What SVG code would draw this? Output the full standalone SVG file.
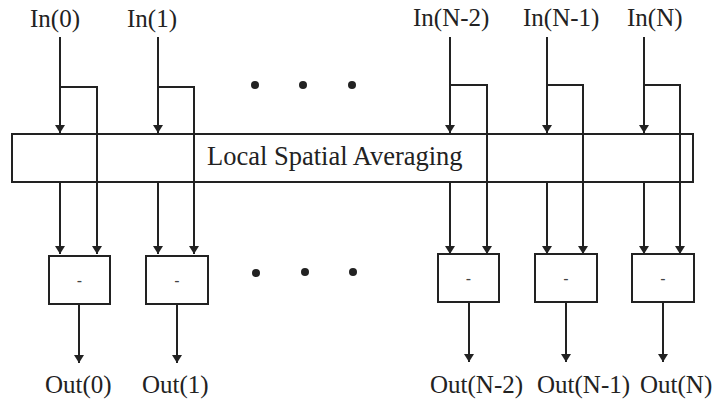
<svg xmlns="http://www.w3.org/2000/svg" width="713" height="405" viewBox="0 0 713 405">
<style>
.ln{stroke:#222;stroke-width:2;fill:none}
.bx{stroke:#222;stroke-width:2;fill:#fff}
.t{font-family:"Liberation Serif","Times New Roman",serif;fill:#222;font-size:25px}
.m{font-family:"Liberation Sans",Arial,sans-serif;fill:#444;font-size:16px;text-anchor:middle}
.dot{fill:#222}
</style>
<defs>
<marker id="ah" markerWidth="8" markerHeight="10" refX="8" refY="5" orient="auto" markerUnits="userSpaceOnUse">
<path d="M0,0 L8,5 L0,10 Z" fill="#222"/>
</marker>
</defs>
<rect width="713" height="405" fill="#fff"/>
<g id="bar">
<rect class="bx" x="12" y="134" width="681" height="48"/>
<text class="t" x="207" y="165" style="font-size:26.5px">Local Spatial Averaging</text>
</g>
<g id="connectors">
<path class="ln" d="M60,37 V133" marker-end="url(#ah)"/>
<path class="ln" d="M60,87 H97 V254" marker-end="url(#ah)"/>
<path class="ln" d="M60,182 V254" marker-end="url(#ah)"/>
<path class="ln" d="M79,304 V363" marker-end="url(#ah)"/>
<path class="ln" d="M158,37 V133" marker-end="url(#ah)"/>
<path class="ln" d="M158,87 H194 V254" marker-end="url(#ah)"/>
<path class="ln" d="M158,182 V254" marker-end="url(#ah)"/>
<path class="ln" d="M177,304 V363" marker-end="url(#ah)"/>
<path class="ln" d="M450,37 V133" marker-end="url(#ah)"/>
<path class="ln" d="M450,85 H487 V254" marker-end="url(#ah)"/>
<path class="ln" d="M450,182 V254" marker-end="url(#ah)"/>
<path class="ln" d="M469,302 V362" marker-end="url(#ah)"/>
<path class="ln" d="M547,37 V133" marker-end="url(#ah)"/>
<path class="ln" d="M547,85 H583 V254" marker-end="url(#ah)"/>
<path class="ln" d="M547,182 V254" marker-end="url(#ah)"/>
<path class="ln" d="M566,302 V362" marker-end="url(#ah)"/>
<path class="ln" d="M644,37 V133" marker-end="url(#ah)"/>
<path class="ln" d="M644,85 H680 V254" marker-end="url(#ah)"/>
<path class="ln" d="M644,182 V254" marker-end="url(#ah)"/>
<path class="ln" d="M663,302 V362" marker-end="url(#ah)"/>
</g>
<g id="in-labels">
<text class="t" x="30" y="27">In(0)</text>
<text class="t" x="127" y="27">In(1)</text>
<text class="t" x="413" y="26">In(N-2)</text>
<text class="t" x="523" y="26">In(N-1)</text>
<text class="t" x="627" y="26">In(N)</text>
</g>
<g id="dots-top">
<circle class="dot" cx="255" cy="85" r="4"/>
<circle class="dot" cx="303" cy="85" r="4"/>
<circle class="dot" cx="352" cy="85" r="4"/>
</g>
<g id="dots-bottom">
<circle class="dot" cx="256" cy="273" r="4"/>
<circle class="dot" cx="305" cy="272" r="4"/>
<circle class="dot" cx="353" cy="272" r="4"/>
</g>
<g id="sub0"><rect class="bx" x="49" y="256" width="61" height="48"/><text class="m" x="79.5" y="286">-</text></g>
<g id="sub1"><rect class="bx" x="146" y="256" width="62" height="48"/><text class="m" x="177" y="286">-</text></g>
<g id="subN2"><rect class="bx" x="438" y="254" width="61" height="48"/><text class="m" x="468.5" y="284">-</text></g>
<g id="subN1"><rect class="bx" x="535" y="254" width="62" height="48"/><text class="m" x="566" y="284">-</text></g>
<g id="subN"><rect class="bx" x="632" y="254" width="62" height="48"/><text class="m" x="663" y="284">-</text></g>
<g id="out-labels">
<text class="t" x="45" y="393">Out(0)</text>
<text class="t" x="142" y="393">Out(1)</text>
<text class="t" x="430" y="393">Out(N-2)</text>
<text class="t" x="537" y="393">Out(N-1)</text>
<text class="t" x="640" y="393">Out(N)</text>
</g>
</svg>
